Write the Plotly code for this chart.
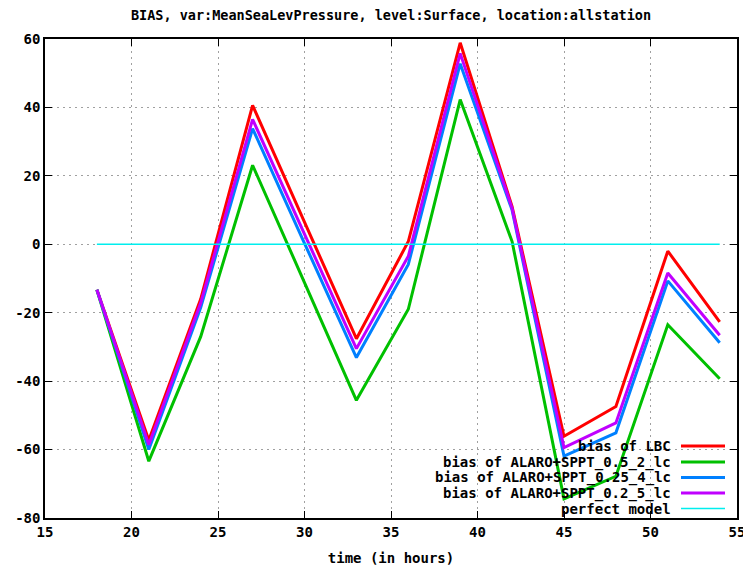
import plotly.graph_objects as go

hours = [18, 21, 24, 27, 30, 33, 36, 39, 42, 45, 48, 51, 54]
bias_lbc = [-13.3, -57.3, -16.0, 40.6, 6.5, -27.6, 0.8, 58.9, 11.0, -56.1, -47.4, -2.0, -22.7]
bias_sppt_05_2 = [-13.3, -63.4, -27.0, 23.1, -11.2, -45.6, -19.0, 42.3, 0.8, -74.4, -67.8, -23.5, -39.3]
bias_sppt_025_4 = [-13.3, -60.0, -18.5, 33.8, 0.3, -33.1, -5.9, 52.8, 10.0, -61.9, -55.1, -10.7, -28.8]
bias_sppt_02_5 = [-13.3, -58.6, -17.2, 36.5, 3.0, -30.5, -3.5, 55.8, 10.5, -59.4, -52.2, -8.4, -26.6]
perfect_x = [18, 54]
perfect_y = [0, 0]
x_ticks = [15, 20, 25, 30, 35, 40, 45, 50, 55]
y_ticks = [-80, -60, -40, -20, 0, 20, 40, 60]

series = [
    ("bias of LBC", bias_lbc, "#ff0000"),
    ("bias of ALARO+SPPT_0.5_2_lc", bias_sppt_05_2, "#00c000"),
    ("bias of ALARO+SPPT_0.25_4_lc", bias_sppt_025_4, "#0080ff"),
    ("bias of ALARO+SPPT_0.2_5_lc", bias_sppt_02_5, "#c000ff"),
]

FONT = "DejaVu Sans Mono"
# page body has an 8px default margin: compensate so the plot lands where it should
OFF = 8
W, H = 751 - OFF, 569 - OFF
PL, PR, PT, PB = 45, 737, 39, 518  # plot area in window pixels

fig = go.Figure()
for name, vals, col in series:
    fig.add_trace(go.Scatter(x=hours, y=vals, mode="lines", name=name,
                             line=dict(color=col, width=3), showlegend=False))
fig.add_trace(go.Scatter(x=perfect_x, y=perfect_y, mode="lines", name="perfect model",
                         line=dict(color="#00eeee", width=1.5), showlegend=False))

# gnuplot-style key (text right-aligned, sample line to the right)
legend_items = [(n, c, 3) for n, _, c in series] + [("perfect model", "#00eeee", 1.5)]
row_y = [446, 462, 477.5, 493, 508.5]
for (name, col, w), yy in zip(legend_items, row_y):
    yp = 1 - (yy - PT) / (PB - PT)
    fig.add_annotation(x=(673 - PL) / (PR - PL), y=yp, xref="paper", yref="paper",
                       text="<b>%s</b>" % name, showarrow=False, xanchor="right",
                       yanchor="middle",
                       font=dict(family=FONT, size=14, color="black"))
    fig.add_shape(type="line", xref="paper", yref="paper",
                  x0=(681 - PL) / (PR - PL), x1=(725 - PL) / (PR - PL), y0=yp, y1=yp,
                  line=dict(color=col, width=w))

fig.update_layout(
    width=W, height=H,
    margin=dict(l=PL - OFF, r=751 - PR, t=PT - OFF, b=569 - PB),
    paper_bgcolor="white", plot_bgcolor="white",
    title=dict(text="<b>BIAS, var:MeanSeaLevPressure, level:Surface, location:allstation</b>",
               x=((PL + PR) / 2 - OFF) / W, xanchor="center",
               y=1 - (15 - OFF) / H, yanchor="middle",
               font=dict(family=FONT, size=13.5, color="black")),
    font=dict(family=FONT, size=14, color="black"),
)
axis_common = dict(showline=True, linecolor="black", linewidth=1.5, mirror="allticks",
                   ticks="inside", ticklen=7, tickcolor="black",
                   showgrid=True, gridcolor="#a0a0a0", griddash="2px,4px", gridwidth=1,
                   zeroline=False, automargin=False, tickfont=dict(family=FONT, size=14))
fig.update_xaxes(range=[15, 55], tickvals=x_ticks,
                 ticktext=["<b>%d</b>" % v for v in x_ticks],
                 title=dict(text="<b>time (in hours)</b>", standoff=15,
                            font=dict(family=FONT, size=14)),
                 **axis_common)
fig.update_yaxes(range=[-80, 60], tickvals=y_ticks,
                 ticktext=["<b>%d</b>" % v for v in y_ticks],
                 **axis_common)

fig.write_html("out.html")
